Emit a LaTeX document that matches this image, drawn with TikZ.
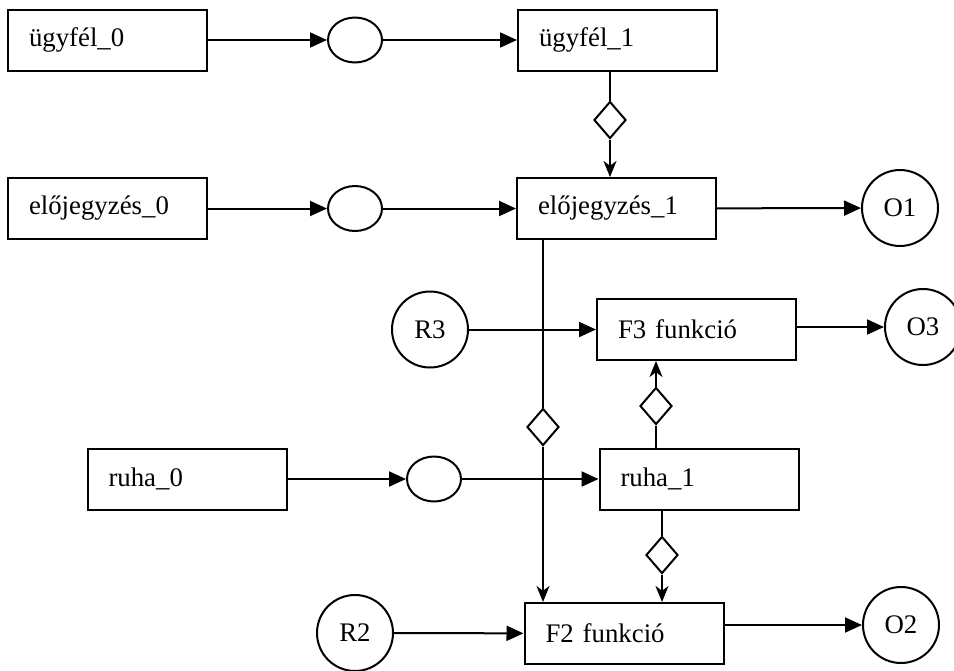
\documentclass[tikz,border=0pt]{standalone}
\usepackage{fontspec}
\setmainfont{Liberation Serif}
\usetikzlibrary{positioning, arrows.meta, shapes.geometric}

\begin{document}
\begin{tikzpicture}[
    x=0.5pt, y=-0.5pt,
    blk/.style={rectangle, draw=black, line width=1pt, minimum height=30.5pt, text width=78.5pt, inner xsep=10.5pt, align=left, font=\fontsize{13.4}{15}\selectfont},
    st/.style={ellipse, draw=black, line width=1pt, minimum width=27pt, minimum height=22.5pt, inner sep=0pt},
    io/.style={circle, draw=black, line width=1pt, minimum size=38pt, inner sep=0pt, font=\fontsize{13.4}{15}\selectfont},
    dm/.style={diamond, draw=black, line width=1pt, minimum width=16pt, minimum height=18.5pt, inner sep=0pt},
    arr/.style={-{Triangle[length=8.5pt, width=7.5pt]}, line width=1pt},
    varr/.style={-{Stealth[length=8pt, width=6.5pt, inset=2.4pt]}, line width=1pt},
    ln/.style={line width=1pt}
]
    \useasboundingbox (0,0) rectangle (954,670);

    % ugyfel sor
    \node[blk] (u0) at (107.5, 40) {ügyfél\_0};
    \node[st]  (c1) at (355, 40) {};
    \node[blk] (u1) at (617.5, 40) {ügyfél\_1};

    % elojegyzes sor
    \node[blk] (e0) at (107.5, 208.5) {előjegyzés\_0};
    \node[st]  (c2) at (355, 208.5) {};
    \node[blk] (e1) at (616.5, 208.5) {előjegyzés\_1};
    \node[io]  (o1) at (900, 208) {O1};

    % F3 sor
    \node[io]  (r3) at (430, 329.5) {R3};
    \node[blk] (f3) at (696.5, 329.5) {F3 funkció};
    \node[io]  (o3) at (923, 327) {O3};

    % ruha sor
    \node[blk] (r0) at (187, 479) {ruha\_0};
    \node[st]  (c3) at (434, 479) {};
    \node[blk] (r1) at (699, 479) {ruha\_1};

    % F2 sor
    \node[io]  (r2) at (355, 633) {R2};
    \node[blk] (f2) at (624, 633.5) {F2 funkció};
    \node[io]  (o2) at (901, 625) {O2};

    % rombuszok
    \node[dm] (d1) at (610, 120) {};
    \node[dm] (d2) at (543, 427) {};
    \node[dm] (d3) at (656, 406) {};
    \node[dm] (d4) at (662, 555) {};

    % vizszintes nyilak
    \draw[arr] (u0) -- (c1);
    \draw[arr] (c1) -- (u1);
    \draw[arr] (e0) -- (c2);
    \draw[arr] (c2) -- (e1);
    \draw[arr] (e1) -- (o1);
    \draw[arr] (r3) -- (f3);
    \draw[arr] (f3.east |- o3.west) -- (o3.west);
    \draw[arr] (r0) -- (c3);
    \draw[arr] (c3) -- (r1);
    \draw[arr] (r2) -- (f2);
    \draw[arr] (f2.east |- o2.west) -- (o2.west);

    % fuggoleges kapcsolatok
    \draw[ln] (u1.south -| d1) -- (d1.north);
    \draw[varr] (d1.south) -- (e1.north -| d1);
    \draw[ln] (e1.south -| d2) -- (d2.north);
    \draw[varr] (d2.south) -- (f2.north -| d2);
    \draw[ln] (r1.north -| d3) -- (d3.south);
    \draw[varr] (d3.north) -- (f3.south -| d3);
    \draw[ln] (r1.south -| d4) -- (d4.north);
    \draw[varr] (d4.south) -- (f2.north -| d4);
\end{tikzpicture}
\end{document}
